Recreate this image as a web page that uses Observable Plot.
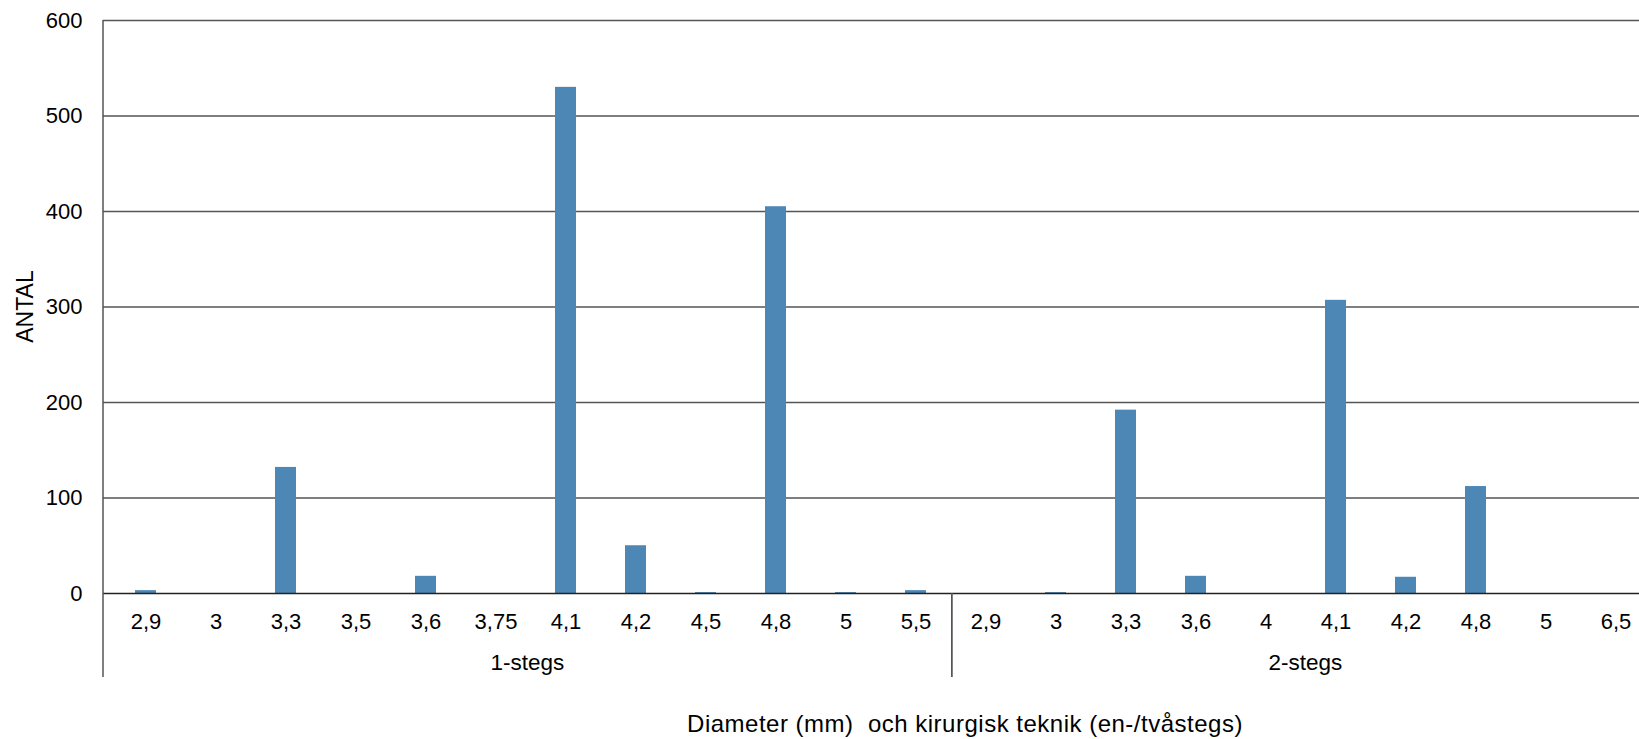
<!DOCTYPE html>
<html><head><meta charset="utf-8">
<script src="https://cdn.jsdelivr.net/npm/d3@7"></script>
<script src="https://cdn.jsdelivr.net/npm/@observablehq/plot@0.6"></script>
<style>
html,body{margin:0;padding:0;overflow:hidden;background:#fff;}
#chart svg{max-width:none !important;display:block;}
</style></head><body><div id="chart"></div>
<script>
const groups = ["1-stegs", "2-stegs"];
const diameters1 = ["2,9","3","3,3","3,5","3,6","3,75","4,1","4,2","4,5","4,8","5","5,5"];
const counts1 = [3, 0, 132, 0, 18, 0, 530, 50, 1, 405, 1, 3];
const diameters2 = ["2,9","3","3,3","3,6","4","4,1","4,2","4,8","5","6,5"];
const counts2 = [0, 1, 192, 18, 0, 307, 17, 112, 0, 0];
const yTicks = [0, 100, 200, 300, 400, 500, 600];
const yTitle = "ANTAL";
const xTitle = "Diameter (mm)  och kirurgisk teknik (en-/tvåstegs)";

const rows = [
  ...diameters1.map((d, i) => ({group: groups[0], diameter: d, key: groups[0] + "|" + d, value: counts1[i]})),
  ...diameters2.map((d, i) => ({group: groups[1], diameter: d, key: groups[1] + "|" + d, value: counts2[i]}))
];
const keys = rows.map(r => r.key);

const FONT = "'Liberation Sans', Arial, sans-serif";
const chart = Plot.plot({
  width: 1700,
  height: 739,
  marginLeft: 103,
  marginRight: 41,
  marginTop: 20,
  marginBottom: 146,
  style: {fontFamily: FONT, fontSize: "22px", color: "#000", background: "#fff"},
  x: {domain: keys, paddingInner: 0.695, paddingOuter: 0.3475, align: 0.5, axis: null},
  y: {domain: [0, 600], axis: null},
  marks: [
    Plot.ruleY(yTicks.filter(t => t > 0), {stroke: "#555", strokeWidth: 1.5}),
    Plot.barY(rows, {x: "key", y: "value", fill: "#4d87b6"}),
    Plot.ruleY([0], {stroke: "#222", strokeWidth: 1.4}),
    Plot.axisY({ticks: yTicks, tickSize: 0, tickPadding: 21, fontSize: 22, label: null, fill: "#000"}),
    Plot.axisX({tickSize: 0, tickPadding: 20, fontSize: 22, label: null, fill: "#000",
      tickFormat: k => k.split("|")[1]})
  ]
});
document.getElementById("chart").appendChild(chart);

// decorations derived from the scales
const sxo = chart.scale("x");
const syo = chart.scale("y");
const band = d3.scaleBand().domain(sxo.domain).range(sxo.range)
  .paddingInner(sxo.paddingInner ?? 0.695).paddingOuter(sxo.paddingOuter ?? 0.3475).align(sxo.align ?? 0.5);
const yS = d3.scaleLinear().domain(syo.domain).range(syo.range);
const step = band.step();
const center = k => band(k) + band.bandwidth() / 2;
const slotLeft = k => center(k) - step / 2;
const slotRight = k => center(k) + step / 2;
const svg = d3.select(chart);
const groupBottom = yS(0) + 84;
const lineColor = "#555";

// left axis line
svg.append("line").attr("x1", slotLeft(keys[0])).attr("x2", slotLeft(keys[0]))
  .attr("y1", yS(600)).attr("y2", groupBottom).attr("stroke", lineColor).attr("stroke-width", 1.5);

groups.forEach((g, gi) => {
  const gk = rows.filter(r => r.group === g).map(r => r.key);
  const l = slotLeft(gk[0]), r = slotRight(gk[gk.length - 1]);
  if (gi > 0) {
    svg.append("line").attr("x1", l).attr("x2", l).attr("y1", yS(0)).attr("y2", groupBottom)
      .attr("stroke", lineColor).attr("stroke-width", 1.5);
  }
  svg.append("line").attr("x1", r).attr("x2", r).attr("y1", yS(0)).attr("y2", groupBottom)
    .attr("stroke", lineColor).attr("stroke-width", 1.5);
  svg.append("text").attr("x", (l + r) / 2).attr("y", yS(0) + 77)
    .attr("text-anchor", "middle").attr("font-family", FONT).attr("font-size", 22.5).attr("fill", "#000")
    .text(g);
});

// y title
const yMid = (yS(0) + yS(600)) / 2;
svg.append("text").attr("transform", `translate(25,${yMid}) rotate(-90)`)
  .attr("text-anchor", "middle").attr("dominant-baseline", "central")
  .attr("font-family", FONT).attr("font-size", 23).attr("fill", "#000").text(yTitle);

// x title
svg.append("text").attr("x", 965).attr("y", 732).attr("text-anchor", "middle")
  .attr("font-family", FONT).attr("font-size", 24).attr("letter-spacing", "0.5px")
  .attr("fill", "#000").attr("xml:space", "preserve").style("white-space", "pre").text(xTitle);
</script></body></html>
